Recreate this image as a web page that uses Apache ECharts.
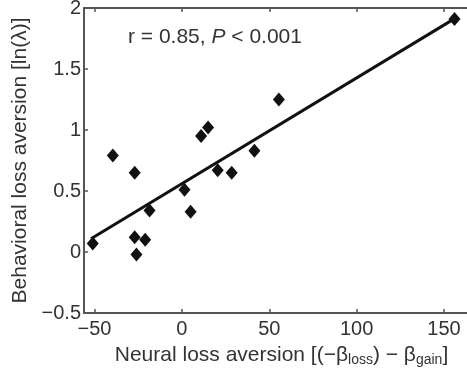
<!DOCTYPE html>
<html>
<head>
<meta charset="utf-8">
<script src="https://cdn.jsdelivr.net/npm/echarts@6/dist/echarts.min.js"></script>
<style>
  html, body { margin: 0; padding: 0; background: #fff; }
  #chart { width: 467px; height: 375px; }
</style>
</head>
<body>
<div id="chart"></div>
<script>
// subjects: neural vs behavioral loss aversion
const neuralX = [-51, -39.5, -27, -27, -26, -21, -18.5, 1.5, 5, 11, 15, 20.5, 28.5, 41.5, 55.5, 156];
const behavY = [0.07, 0.79, 0.65, 0.12, -0.02, 0.1, 0.34, 0.51, 0.33, 0.95, 1.02, 0.67, 0.65, 0.83, 1.25, 1.91];

// least-squares line endpoints
const fitX = [-52, 156];
const fitY = [0.108, 1.913];

const xTicks = [-50, 0, 50, 100, 150];
const yTicks = [-0.5, 0, 0.5, 1, 1.5, 2];

const FONT = "Liberation Sans, Arial, Helvetica, sans-serif";
const INK = "#333";
const AXIS = "#555";

const minus = (v) => String(v).replace("-", "\u2212");

const chart = echarts.init(document.getElementById("chart"), null, { renderer: "canvas" });

const xCommon = {
  type: "value",
  min: -56,
  max: 170,
  splitLine: { show: false },
  axisLine: { onZero: false, lineStyle: { color: AXIS, width: 2 } },
  axisTick: { inside: true, length: 4, customValues: xTicks, lineStyle: { color: AXIS, width: 1.5 } },
};

chart.setOption({
  animation: false,
  textStyle: { fontFamily: FONT },
  grid: { left: 84, top: 8, bottom: 62, right: -12, containLabel: false, outerBoundsMode: "none" },
  title: {
    text: "{n|r = 0.85, }{i|P}{n| < 0.001}",
    left: 128,
    top: 27,
    padding: 0,
    textStyle: {
      fontWeight: "normal",
      rich: {
        n: { fontSize: 21, color: INK, fontFamily: FONT, fontWeight: "normal" },
        i: { fontSize: 21, color: INK, fontFamily: FONT, fontWeight: "normal", fontStyle: "italic" },
      },
    },
  },
  xAxis: [
    {
      ...xCommon,
      position: "bottom",
      name: "Neural loss aversion [(\u2212\u03b2{sub|loss}) \u2212 \u03b2{sub|gain}]",
      nameLocation: "middle",
      nameGap: 30,
      nameTextStyle: {
        fontSize: 21,
        color: INK,
        rich: { sub: { fontSize: 14, color: INK, padding: [10, 0, 0, 0] } },
      },
      axisLabel: {
        customValues: xTicks,
        formatter: minus,
        fontSize: 20,
        color: INK,
        margin: 6,
      },
    },
    {
      ...xCommon,
      position: "top",
      axisLabel: { show: false },
    },
  ],
  yAxis: {
    type: "value",
    min: -0.5,
    max: 2,
    interval: 0.5,
    splitLine: { show: false },
    axisLine: { onZero: false, lineStyle: { color: AXIS, width: 2 } },
    axisTick: { inside: true, length: 4, lineStyle: { color: AXIS, width: 1.5 } },
    axisLabel: { formatter: minus, fontSize: 20, color: INK, margin: 3 },
    name: "Behavioral loss aversion [ln(\u03bb)]",
    nameLocation: "middle",
    nameGap: 41,
    nameTextStyle: { fontSize: 21, color: INK },
  },
  series: [
    {
      type: "line",
      xAxisIndex: 0,
      data: fitX.map((x, i) => [x, fitY[i]]),
      showSymbol: false,
      lineStyle: { color: "#111", width: 3 },
      z: 2,
    },
    {
      type: "scatter",
      xAxisIndex: 0,
      data: neuralX.map((x, i) => [x, behavY[i]]),
      symbol: "diamond",
      symbolSize: [12, 14],
      itemStyle: { color: "#111", opacity: 1 },
      z: 3,
    },
  ],
});
</script>
</body>
</html>
